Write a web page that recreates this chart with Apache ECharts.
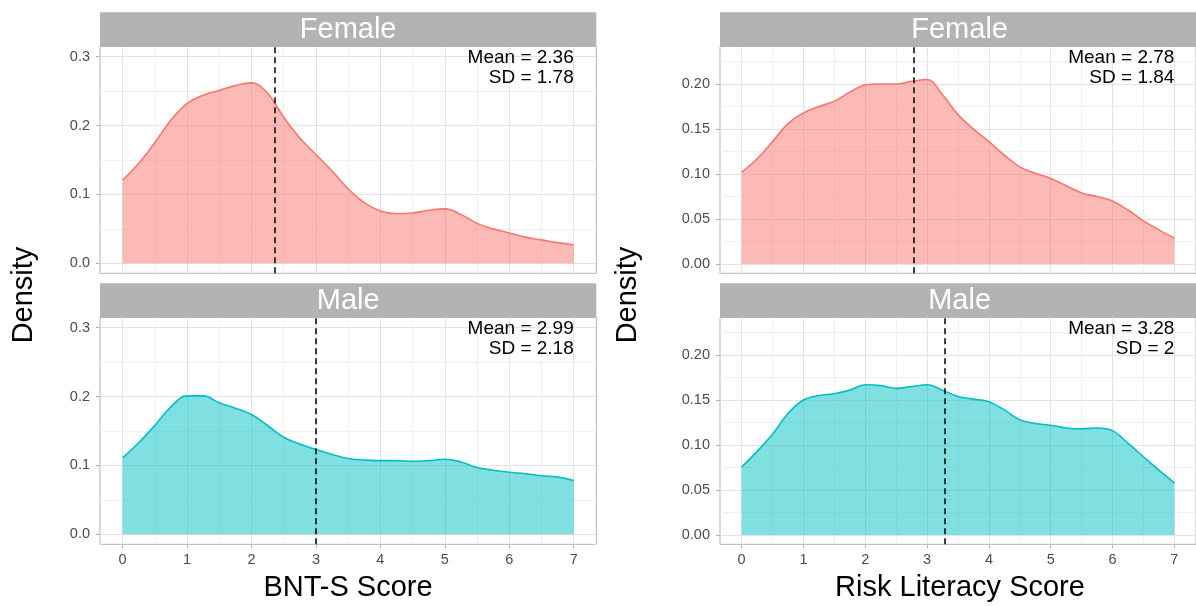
<!DOCTYPE html>
<html>
<head>
<meta charset="utf-8">
<script src="https://cdn.jsdelivr.net/npm/echarts@6/dist/echarts.min.js"></script>
<style>
  html, body { margin: 0; padding: 0; background: #fff; }
  #main { width: 1196px; height: 606px; }
</style>
</head>
<body>
<div id="main"></div>
<script>
var scores = [0, 0.25, 0.5, 0.75, 1, 1.25, 1.5, 1.75, 2, 2.25, 2.5, 2.75, 3, 3.25, 3.5,
              3.75, 4, 4.25, 4.5, 4.75, 5, 5.25, 5.5, 5.75, 6, 6.25, 6.5, 6.75, 7];

var bntFemale = [0.121, 0.145, 0.175, 0.208, 0.232, 0.244, 0.251, 0.258, 0.262, 0.247, 0.212, 0.182, 0.158, 0.134, 0.108,
                 0.088, 0.076, 0.072, 0.073, 0.077, 0.079, 0.071, 0.058, 0.050, 0.044, 0.038, 0.034, 0.030, 0.027];
var bntMale   = [0.111, 0.133, 0.158, 0.185, 0.201, 0.201, 0.191, 0.183, 0.174, 0.158, 0.141, 0.131, 0.123, 0.116, 0.110,
                 0.108, 0.107, 0.107, 0.106, 0.107, 0.109, 0.105, 0.097, 0.093, 0.090, 0.088, 0.085, 0.083, 0.078];
var riskFemale = [0.102, 0.117, 0.136, 0.156, 0.168, 0.175, 0.181, 0.191, 0.199, 0.200, 0.200, 0.203, 0.205, 0.188, 0.166,
                  0.150, 0.136, 0.121, 0.108, 0.101, 0.095, 0.087, 0.079, 0.075, 0.070, 0.060, 0.048, 0.038, 0.029];
var riskMale   = [0.0755, 0.093, 0.112, 0.135, 0.150, 0.155, 0.157, 0.161, 0.167, 0.166, 0.163, 0.165, 0.167, 0.161, 0.154,
                  0.151, 0.148, 0.139, 0.128, 0.124, 0.122, 0.119, 0.118, 0.119, 0.116, 0.102, 0.087, 0.072, 0.058];

var groups = ['Female', 'Male'];
var bntMeans = [2.36, 2.99], bntSDs = ['1.78', '2.18'];
var riskMeans = [2.78, 3.28], riskSDs = ['1.84', '2'];

var xTicks = [0, 1, 2, 3, 4, 5, 6, 7];
var xMinor = [0.5, 1.5, 2.5, 3.5, 4.5, 5.5, 6.5];
var bntTicks = [0, 0.1, 0.2, 0.3];
var bntMinor = [0.05, 0.15, 0.25];
var riskTicks = [0, 0.05, 0.1, 0.15, 0.2];
var riskMinor = [0.025, 0.075, 0.125, 0.175, 0.225];

var fillCol = ['#F8766D', '#00BFC4'];

// panel boxes (pixels) and axis extents
var panels = [
  {left: 100, top: 46.5, width: 496.3, height: 226.8, yMin: -0.0145, yMax: 0.3148, dens: bntFemale, g: 0, mean: bntMeans[0], sd: bntSDs[0], ticks: bntTicks, minor: bntMinor, dec: 1, bottom: false},
  {left: 100, top: 317.5, width: 496.3, height: 226.8, yMin: -0.0145, yMax: 0.3148, dens: bntMale, g: 1, mean: bntMeans[1], sd: bntSDs[1], ticks: bntTicks, minor: bntMinor, dec: 1, bottom: true},
  {left: 720, top: 46.5, width: 479.2, height: 226.8, yMin: -0.0103, yMax: 0.2417, dens: riskFemale, g: 0, mean: riskMeans[0], sd: riskSDs[0], ticks: riskTicks, minor: riskMinor, dec: 2, bottom: false},
  {left: 720, top: 317.5, width: 479.2, height: 226.8, yMin: -0.0103, yMax: 0.2417, dens: riskMale, g: 1, mean: riskMeans[1], sd: riskSDs[1], ticks: riskTicks, minor: riskMinor, dec: 2, bottom: true}
];

var font = '"Liberation Sans", Arial, Helvetica, sans-serif';
var grids = [], xAxes = [], yAxes = [], series = [], graphics = [];

panels.forEach(function (p, i) {
  grids.push({
    left: p.left, top: p.top, width: p.width, height: p.height,
    show: true, borderColor: '#b3b3b3', borderWidth: 1, backgroundColor: 'transparent'
  });
  // major x
  xAxes.push({
    type: 'value', gridIndex: i, min: -0.35, max: 7.35, position: 'bottom',
    axisLine: {show: false, onZero: false},
    axisTick: {show: p.bottom, customValues: xTicks, length: 4, lineStyle: {color: '#b3b3b3'}},
    axisLabel: {show: p.bottom, customValues: xTicks, margin: 8, color: '#4d4d4d', fontSize: 14.5, fontFamily: font},
    splitLine: {show: true, lineStyle: {color: '#e3e3e3', width: 1}}
  });
  // minor x
  xAxes.push({
    type: 'value', gridIndex: i, min: -0.35, max: 7.35, position: 'bottom',
    axisLine: {show: false, onZero: false},
    axisTick: {show: false, customValues: xMinor},
    axisLabel: {show: false, customValues: xMinor},
    splitLine: {show: true, lineStyle: {color: '#f0f0f0', width: 1}}
  });
  yAxes.push({
    type: 'value', gridIndex: i, min: p.yMin, max: p.yMax,
    axisLine: {show: false, onZero: false},
    axisTick: {show: true, customValues: p.ticks, length: 4, lineStyle: {color: '#b3b3b3'}},
    axisLabel: {customValues: p.ticks, margin: 10, color: '#4d4d4d', fontSize: 14.5, fontFamily: font,
      formatter: (function (d) { return function (v) { return Number(v).toFixed(d); }; })(p.dec)},
    splitLine: {show: true, lineStyle: {color: '#e3e3e3', width: 1}}
  });
  yAxes.push({
    type: 'value', gridIndex: i, min: p.yMin, max: p.yMax,
    axisLine: {show: false, onZero: false},
    axisTick: {show: false, customValues: p.minor},
    axisLabel: {show: false, customValues: p.minor},
    splitLine: {show: true, lineStyle: {color: '#f0f0f0', width: 1}}
  });

  var col = fillCol[p.g];
  series.push({
    type: 'line', xAxisIndex: 2 * i, yAxisIndex: 2 * i,
    data: scores.map(function (s, k) { return [s, p.dens[k]]; }),
    smooth: 0.4, showSymbol: false, symbol: 'none',
    lineStyle: {color: col, width: 1.6},
    areaStyle: {color: col, opacity: 0.5, origin: 0},
    z: 2,
    markLine: {
      silent: true, symbol: ['none', 'none'], label: {show: false},
      lineStyle: {color: '#000', type: [6, 4], width: 1.5},
      data: [{xAxis: p.mean}]
    },
    markPoint: {
      silent: true, symbol: 'rect', symbolSize: 0,
      itemStyle: {color: 'transparent'},
      label: {
        show: true, position: [0, 0], align: 'right', verticalAlign: 'top',
        offset: [0, 1], color: '#000', fontSize: 19, lineHeight: 20.5, fontFamily: font,
        formatter: 'Mean = ' + p.mean + '\nSD = ' + p.sd
      },
      data: [{coord: [7, p.yMax]}]
    }
  });

  // facet strip
  var stripTop = p.top - 34.3;
  graphics.push({
    type: 'rect', silent: true,
    shape: {x: p.left, y: stripTop, width: p.width, height: 34},
    style: {fill: '#b3b3b3'}
  });
  graphics.push({
    type: 'text', silent: true,
    x: p.left + p.width / 2, y: stripTop + 18,
    style: {text: groups[p.g], fill: '#fff', font: '29px ' + font, align: 'center', verticalAlign: 'middle'}
  });
});

// axis titles
graphics.push({type: 'text', silent: true, x: 24, y: 295, rotation: Math.PI / 2,
  style: {text: 'Density', fill: '#000', font: '29px ' + font, align: 'center', verticalAlign: 'middle'}});
graphics.push({type: 'text', silent: true, x: 628, y: 295, rotation: Math.PI / 2,
  style: {text: 'Density', fill: '#000', font: '29px ' + font, align: 'center', verticalAlign: 'middle'}});
graphics.push({type: 'text', silent: true, x: 348, y: 588,
  style: {text: 'BNT-S Score', fill: '#000', font: '29px ' + font, align: 'center', verticalAlign: 'middle'}});
graphics.push({type: 'text', silent: true, x: 960, y: 588,
  style: {text: 'Risk Literacy Score', fill: '#000', font: '29px ' + font, align: 'center', verticalAlign: 'middle'}});

var chart = echarts.init(document.getElementById('main'), null, {renderer: 'canvas'});
chart.setOption({
  animation: false,
  backgroundColor: '#fff',
  grid: grids,
  xAxis: xAxes,
  yAxis: yAxes,
  series: series,
  graphic: graphics
});
window.addEventListener('resize', chart.resize);
</script>
</body>
</html>
